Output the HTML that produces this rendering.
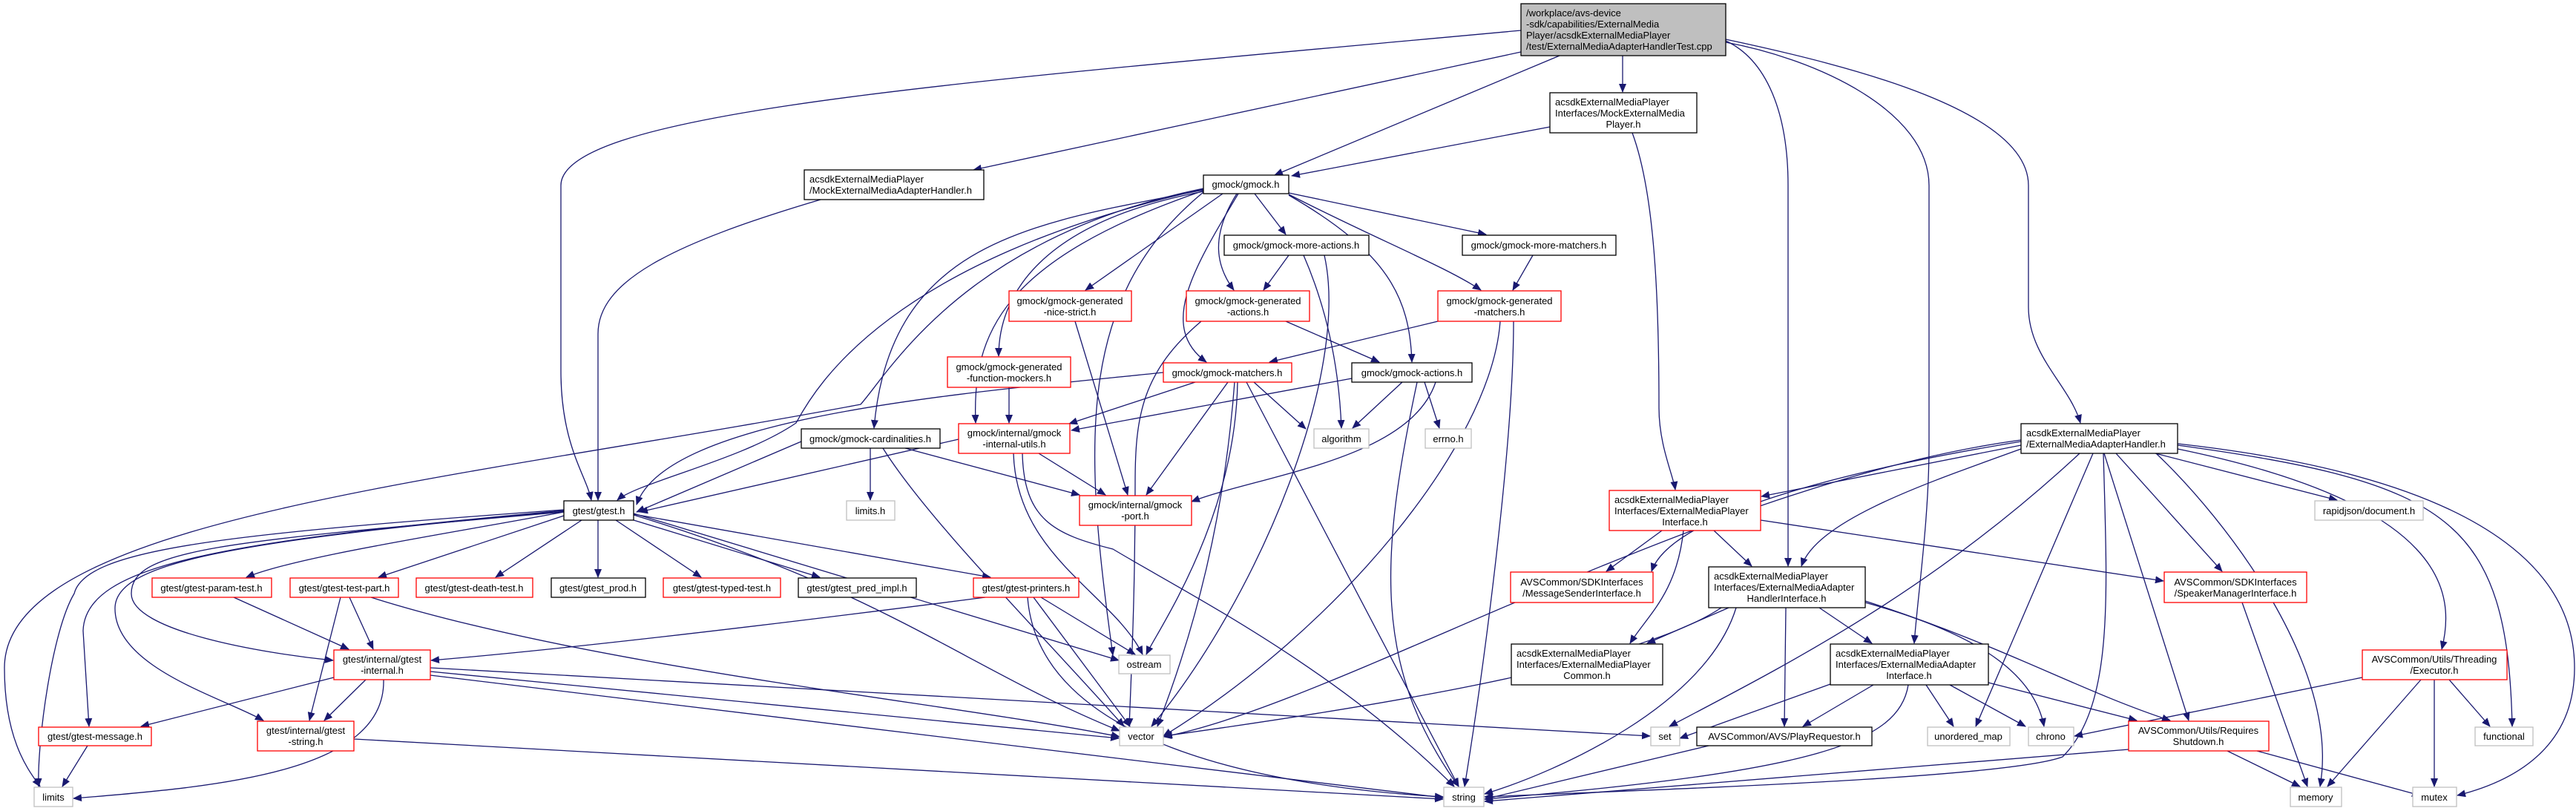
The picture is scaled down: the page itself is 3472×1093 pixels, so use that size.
<!DOCTYPE html>
<html><head><meta charset="utf-8"><style>
html,body{margin:0;padding:0;background:#fff;}
svg{display:block;}
text{font-family:"Liberation Sans",Arial,sans-serif;font-size:13px;fill:#000;}
.e{fill:none;stroke:#191970;stroke-width:1.3;marker-end:url(#a);}
.k{fill:#fff;stroke:#000;stroke-width:1.3;}
.r{fill:#fff;stroke:#ff0000;stroke-width:1.3;}
.g{fill:#fff;stroke:#bfbfbf;stroke-width:1.3;}
.m{text-anchor:middle;}
</style></head><body>
<svg width="3472" height="1093" viewBox="0 0 3472 1093" xmlns="http://www.w3.org/2000/svg">
<defs><marker id="a" markerWidth="12" markerHeight="10" refX="11" refY="5" orient="auto" markerUnits="userSpaceOnUse"><path d="M0,0 L12,5 L0,10 z" fill="#191970"/></marker></defs>
<g>
<path class="e" d="M2050,41 C1300,110 756,150 756,250 L756,500 C756,600 790,640 797,674"/>
<path class="e" d="M2050,70 L1312,229"/>
<path class="e" d="M2102,75 L1718,236"/>
<path class="e" d="M2187,75 L2187,124"/>
<path class="e" d="M2326,55 C2380,80 2410,150 2410,250 L2410,763"/>
<path class="e" d="M2326,57 C2450,80 2600,150 2600,250 L2600,600 C2600,700 2585,800 2580,867"/>
<path class="e" d="M2326,53 C2500,90 2734,150 2734,250 L2734,414 C2734,480 2790,520 2804,570"/>
<path class="e" d="M2089,171 L1741,237"/>
<path class="e" d="M2200,179 C2230,260 2236,400 2236,550 C2236,600 2255,640 2258,660"/>
<path class="e" d="M1106,269 C900,330 806,380 806,450 L806,674"/>
<path class="e" d="M1691,261 L1733,316"/>
<path class="e" d="M1737,260 L2003,316"/>
<path class="e" d="M1648,261 L1463,391"/>
<path class="e" d="M1667,261 C1630,320 1640,360 1663,391"/>
<path class="e" d="M1737,262 C1850,320 1950,360 1996,391"/>
<path class="e" d="M1669,261 C1610,360 1560,440 1626,488"/>
<path class="e" d="M1737,263 C1870,340 1900,400 1903,488"/>
<path class="e" d="M1622,258 C1400,300 1346,400 1346,480"/>
<path class="e" d="M1622,256 C1400,300 1200,320 1178,577"/>
<path class="e" d="M1622,257 C1350,350 1310,450 1315,570"/>
<path class="e" d="M1622,255 C1200,350 1100,520 1073,570 C1000,620 860,650 832,674"/>
<path class="e" d="M1622,254 C1300,320 1200,500 1160,545 C600,650 6,700 6,900 C6,1000 40,1040 54,1060"/>
<path class="e" d="M1622,259 C1450,400 1460,600 1500,883"/>
<path class="e" d="M1737,344 L1703,391"/>
<path class="e" d="M1757,344 C1790,420 1805,500 1808,577"/>
<path class="e" d="M1785,344 C1820,500 1700,800 1552,979"/>
<path class="e" d="M2066,344 L2039,391"/>
<path class="e" d="M1449,433 L1520,667"/>
<path class="e" d="M1733,433 L1859,488"/>
<path class="e" d="M1619,433 C1540,500 1530,560 1530,650 C1530,800 1525,900 1522,979"/>
<path class="e" d="M1938,433 L1711,488"/>
<path class="e" d="M2022,433 C2010,600 1800,850 1568,992"/>
<path class="e" d="M2040,433 C2040,600 2000,900 1974,1060"/>
<path class="e" d="M1360,522 L1360,570"/>
<path class="e" d="M1611,515 L1441,571"/>
<path class="e" d="M1655,515 L1545,667"/>
<path class="e" d="M1664,515 C1650,700 1610,850 1560,979"/>
<path class="e" d="M1668,515 C1665,700 1560,850 1545,882"/>
<path class="e" d="M1680,515 L1966,1060"/>
<path class="e" d="M1690,515 L1760,578"/>
<path class="e" d="M1568,502 C1300,530 900,560 858,680"/>
<path class="e" d="M1822,510 L1444,580"/>
<path class="e" d="M1890,515 L1823,577"/>
<path class="e" d="M1920,515 L1940,577"/>
<path class="e" d="M1935,515 C1900,620 1700,640 1606,676"/>
<path class="e" d="M1910,515 C1860,750 1850,900 1966,1060"/>
<path class="e" d="M1292,592 L862,690"/>
<path class="e" d="M1400,611 L1490,667"/>
<path class="e" d="M1366,611 C1370,750 1500,800 1540,882"/>
<path class="e" d="M1378,611 C1380,700 1420,720 1500,740 C1600,800 1800,900 1960,1060"/>
<path class="e" d="M1080,595 L858,690"/>
<path class="e" d="M1173,604 L1173,674"/>
<path class="e" d="M1220,604 L1455,667"/>
<path class="e" d="M1190,604 C1250,700 1400,850 1515,979"/>
<path class="e" d="M760,690 C600,720 400,750 332,778"/>
<path class="e" d="M760,695 L510,778"/>
<path class="e" d="M784,701 L668,778"/>
<path class="e" d="M806,701 L806,778"/>
<path class="e" d="M830,701 L945,778"/>
<path class="e" d="M854,701 L1105,778"/>
<path class="e" d="M854,693 L1335,778"/>
<path class="e" d="M760,690 C300,730 177,740 177,800 C177,850 350,880 449,890"/>
<path class="e" d="M760,688 C300,730 115,760 112,850 L120,979"/>
<path class="e" d="M760,689 C300,730 155,760 155,820 C155,900 300,940 355,971"/>
<path class="e" d="M760,687 C300,720 115,740 100,800 C70,850 50,1000 52,1060"/>
<path class="e" d="M854,692 L1508,890"/>
<path class="e" d="M854,694 C1200,800 1300,900 1509,985"/>
<path class="e" d="M315,805 L470,875"/>
<path class="e" d="M471,805 L503,875"/>
<path class="e" d="M459,805 L417,971"/>
<path class="e" d="M500,805 C800,900 1300,950 1509,993"/>
<path class="e" d="M1328,805 C900,860 700,880 581,890"/>
<path class="e" d="M1403,805 L1530,882"/>
<path class="e" d="M1393,805 L1523,979"/>
<path class="e" d="M1385,805 C1400,1000 1700,1060 1945,1074"/>
<path class="e" d="M450,913 L190,979"/>
<path class="e" d="M493,916 L437,971"/>
<path class="e" d="M517,916 C520,1040 300,1060 99,1076"/>
<path class="e" d="M580,900 L2224,992"/>
<path class="e" d="M580,905 L1508,995"/>
<path class="e" d="M580,910 L1945,1075"/>
<path class="e" d="M477,996 L1945,1077"/>
<path class="e" d="M118,1005 L84,1060"/>
<path class="e" d="M2724,600 L2374,669"/>
<path class="e" d="M2724,605 C2600,650 2450,700 2428,763"/>
<path class="e" d="M2724,595 C2450,640 2250,700 2226,770"/>
<path class="e" d="M2724,593 C2300,650 1800,950 1568,993"/>
<path class="e" d="M2852,611 L2995,770"/>
<path class="e" d="M2821,611 L2663,979"/>
<path class="e" d="M2906,611 C3000,700 3155,900 3127,1060"/>
<path class="e" d="M2905,611 L3150,674"/>
<path class="e" d="M2935,605 C3300,680 3310,800 3291,875"/>
<path class="e" d="M2935,600 C3300,650 3380,700 3386,979"/>
<path class="e" d="M2935,598 C3400,650 3470,800 3470,900 C3470,1000 3400,1050 3312,1072"/>
<path class="e" d="M2836,611 L2950,971"/>
<path class="e" d="M2835,611 C2840,800 2850,950 2780,1020 C2700,1050 2200,1065 2001,1074"/>
<path class="e" d="M2803,611 C2600,800 2400,900 2250,979"/>
<path class="e" d="M2240,715 L2165,770"/>
<path class="e" d="M2269,715 C2260,800 2220,830 2197,867"/>
<path class="e" d="M2310,715 L2361,763"/>
<path class="e" d="M2373,701 L2916,783"/>
<path class="e" d="M2330,819 L2220,867"/>
<path class="e" d="M2452,819 L2523,867"/>
<path class="e" d="M2407,819 L2405,979"/>
<path class="e" d="M2320,819 C2200,900 1800,960 1569,992"/>
<path class="e" d="M2340,819 C2300,950 2100,1040 2001,1070"/>
<path class="e" d="M2514,812 C2650,850 2740,900 2755,979"/>
<path class="e" d="M2514,810 C2700,870 2800,930 2925,971"/>
<path class="e" d="M2525,923 L2430,979"/>
<path class="e" d="M2596,923 L2633,979"/>
<path class="e" d="M2628,923 L2730,979"/>
<path class="e" d="M2680,920 L2880,971"/>
<path class="e" d="M2467,922 L2264,995"/>
<path class="e" d="M2572,923 C2560,1000 2450,1040 2001,1077"/>
<path class="e" d="M2303,1005 L2001,1077"/>
<path class="e" d="M3002,1012 L3100,1060"/>
<path class="e" d="M3042,1012 L3262,1072"/>
<path class="e" d="M2869,1010 L2001,1080"/>
<path class="e" d="M3022,812 L3110,1060"/>
<path class="e" d="M3184,913 L2796,992"/>
<path class="e" d="M3263,916 L3137,1060"/>
<path class="e" d="M3281,916 L3281,1060"/>
<path class="e" d="M3301,916 L3356,979"/>
</g>
<g>
<rect x="2050" y="5" width="276" height="70" fill="#bfbfbf" stroke="#000" stroke-width="1.3"/>
<text x="2057" y="22">/workplace/avs-device</text>
<text x="2057" y="37">-sdk/capabilities/ExternalMedia</text>
<text x="2057" y="52">Player/acsdkExternalMediaPlayer</text>
<text x="2057" y="67">/test/ExternalMediaAdapterHandlerTest.cpp</text>

<rect class="k" x="2089" y="125" width="198" height="54"/>
<text x="2096" y="142">acsdkExternalMediaPlayer</text>
<text x="2096" y="157">Interfaces/MockExternalMedia</text>
<text class="m" x="2188" y="172">Player.h</text>

<rect class="k" x="1084" y="229" width="242" height="40"/>
<text x="1091" y="246">acsdkExternalMediaPlayer</text>
<text x="1091" y="261">/MockExternalMediaAdapterHandler.h</text>

<rect class="k" x="1622" y="236" width="115" height="25"/>
<text class="m" x="1679" y="253">gmock/gmock.h</text>

<rect class="k" x="1650" y="317" width="195" height="27"/>
<text class="m" x="1747" y="335">gmock/gmock-more-actions.h</text>
<rect class="k" x="1971" y="317" width="207" height="27"/>
<text class="m" x="2074" y="335">gmock/gmock-more-matchers.h</text>

<rect class="r" x="1360" y="392" width="165" height="41"/>
<text class="m" x="1442" y="410">gmock/gmock-generated</text><text class="m" x="1442" y="425">-nice-strict.h</text>
<rect class="r" x="1599" y="392" width="166" height="41"/>
<text class="m" x="1682" y="410">gmock/gmock-generated</text><text class="m" x="1682" y="425">-actions.h</text>
<rect class="r" x="1938" y="392" width="166" height="41"/>
<text class="m" x="2021" y="410">gmock/gmock-generated</text><text class="m" x="2021" y="425">-matchers.h</text>
<rect class="r" x="1277" y="481" width="166" height="41"/>
<text class="m" x="1360" y="499">gmock/gmock-generated</text><text class="m" x="1360" y="514">-function-mockers.h</text>

<rect class="r" x="1568" y="489" width="173" height="26"/>
<text class="m" x="1654" y="507">gmock/gmock-matchers.h</text>
<rect class="k" x="1822" y="489" width="162" height="26"/>
<text class="m" x="1903" y="507">gmock/gmock-actions.h</text>

<rect class="k" x="1080" y="578" width="187" height="26"/>
<text class="m" x="1173" y="596">gmock/gmock-cardinalities.h</text>
<rect class="g" x="1141" y="675" width="65" height="26"/>
<text class="m" x="1173" y="693">limits.h</text>
<rect class="r" x="1292" y="571" width="150" height="40"/>
<text class="m" x="1367" y="588">gmock/internal/gmock</text><text class="m" x="1367" y="603">-internal-utils.h</text>
<rect class="g" x="1771" y="578" width="74" height="26"/>
<text class="m" x="1808" y="596">algorithm</text>
<rect class="g" x="1921" y="578" width="62" height="26"/>
<text class="m" x="1952" y="596">errno.h</text>
<rect class="r" x="1455" y="668" width="151" height="40"/>
<text class="m" x="1530" y="685">gmock/internal/gmock</text><text class="m" x="1530" y="700">-port.h</text>

<rect class="k" x="760" y="675" width="94" height="26"/>
<text class="m" x="807" y="693">gtest/gtest.h</text>
<rect class="r" x="205" y="779" width="161" height="26"/>
<text class="m" x="285" y="797">gtest/gtest-param-test.h</text>
<rect class="r" x="391" y="779" width="146" height="26"/>
<text class="m" x="464" y="797">gtest/gtest-test-part.h</text>
<rect class="r" x="561" y="779" width="157" height="26"/>
<text class="m" x="639" y="797">gtest/gtest-death-test.h</text>
<rect class="k" x="743" y="779" width="127" height="26"/>
<text class="m" x="806" y="797">gtest/gtest_prod.h</text>
<rect class="r" x="894" y="779" width="158" height="26"/>
<text class="m" x="973" y="797">gtest/gtest-typed-test.h</text>
<rect class="k" x="1076" y="779" width="159" height="26"/>
<text class="m" x="1155" y="797">gtest/gtest_pred_impl.h</text>
<rect class="r" x="1312" y="779" width="142" height="26"/>
<text class="m" x="1383" y="797">gtest/gtest-printers.h</text>

<rect class="r" x="450" y="876" width="130" height="40"/>
<text class="m" x="515" y="893">gtest/internal/gtest</text><text class="m" x="515" y="908">-internal.h</text>
<rect class="r" x="52" y="980" width="152" height="25"/>
<text class="m" x="128" y="997">gtest/gtest-message.h</text>
<rect class="r" x="347" y="972" width="130" height="40"/>
<text class="m" x="412" y="989">gtest/internal/gtest</text><text class="m" x="412" y="1004">-string.h</text>
<rect class="g" x="46" y="1061" width="52" height="26"/>
<text class="m" x="72" y="1079">limits</text>

<rect class="g" x="1508" y="883" width="69" height="25"/>
<text class="m" x="1542" y="900">ostream</text>
<rect class="g" x="1509" y="980" width="59" height="25"/>
<text class="m" x="1538" y="997">vector</text>
<rect class="g" x="1946" y="1061" width="54" height="26"/>
<text class="m" x="1973" y="1079">string</text>
<rect class="g" x="2225" y="980" width="39" height="25"/>
<text class="m" x="2244" y="997">set</text>

<rect class="r" x="2036" y="771" width="192" height="41"/>
<text class="m" x="2132" y="789">AVSCommon/SDKInterfaces</text><text class="m" x="2132" y="804">/MessageSenderInterface.h</text>
<rect class="k" x="2037" y="868" width="204" height="55"/>
<text x="2044" y="885">acsdkExternalMediaPlayer</text><text x="2044" y="900">Interfaces/ExternalMediaPlayer</text><text class="m" x="2139" y="915">Common.h</text>
<rect class="r" x="2169" y="661" width="204" height="54"/>
<text x="2176" y="678">acsdkExternalMediaPlayer</text><text x="2176" y="693">Interfaces/ExternalMediaPlayer</text><text class="m" x="2271" y="708">Interface.h</text>

<rect class="k" x="2724" y="571" width="211" height="40"/>
<text x="2731" y="588">acsdkExternalMediaPlayer</text><text x="2731" y="603">/ExternalMediaAdapterHandler.h</text>
<rect class="g" x="3120" y="675" width="146" height="26"/>
<text class="m" x="3193" y="693">rapidjson/document.h</text>
<rect class="k" x="2303" y="764" width="211" height="55"/>
<text x="2310" y="781">acsdkExternalMediaPlayer</text><text x="2310" y="796">Interfaces/ExternalMediaAdapter</text><text class="m" x="2408" y="811">HandlerInterface.h</text>
<rect class="r" x="2917" y="771" width="192" height="41"/>
<text class="m" x="3013" y="789">AVSCommon/SDKInterfaces</text><text class="m" x="3013" y="804">/SpeakerManagerInterface.h</text>
<rect class="k" x="2467" y="868" width="213" height="55"/>
<text x="2474" y="885">acsdkExternalMediaPlayer</text><text x="2474" y="900">Interfaces/ExternalMediaAdapter</text><text class="m" x="2573" y="915">Interface.h</text>
<rect class="r" x="3184" y="876" width="195" height="40"/>
<text class="m" x="3281" y="893">AVSCommon/Utils/Threading</text><text class="m" x="3281" y="908">/Executor.h</text>

<rect class="k" x="2287" y="980" width="236" height="25"/>
<text class="m" x="2405" y="997">AVSCommon/AVS/PlayRequestor.h</text>
<rect class="g" x="2598" y="980" width="111" height="25"/>
<text class="m" x="2653" y="997">unordered_map</text>
<rect class="g" x="2734" y="980" width="61" height="25"/>
<text class="m" x="2764" y="997">chrono</text>
<rect class="r" x="2869" y="972" width="189" height="40"/>
<text class="m" x="2963" y="989">AVSCommon/Utils/Requires</text><text class="m" x="2963" y="1004">Shutdown.h</text>
<rect class="g" x="3336" y="980" width="78" height="25"/>
<text class="m" x="3375" y="997">functional</text>
<rect class="g" x="3087" y="1061" width="69" height="26"/>
<text class="m" x="3121" y="1079">memory</text>
<rect class="g" x="3252" y="1061" width="59" height="26"/>
<text class="m" x="3281" y="1079">mutex</text>
</g>
</svg>
</body></html>
